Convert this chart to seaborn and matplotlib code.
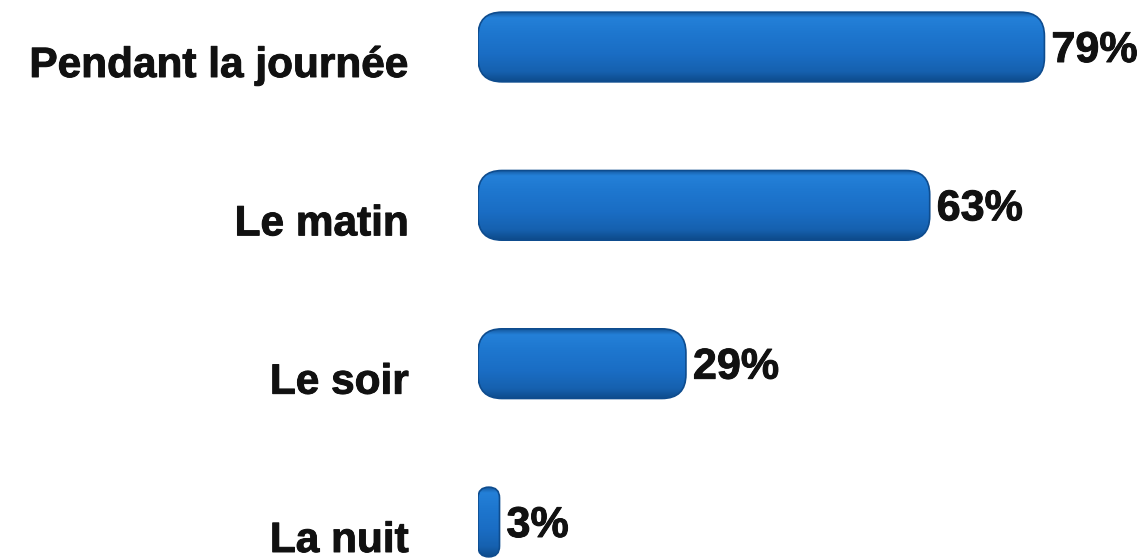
import numpy as np
import pandas as pd
import matplotlib
matplotlib.use("Agg")
import matplotlib.pyplot as plt
from matplotlib.patches import FancyBboxPatch
from matplotlib.colors import LinearSegmentedColormap
import matplotlib.patheffects as pe
import seaborn as sns

categories = ["Pendant la journée", "Le matin", "Le soir", "La nuit"]
values = [79, 63, 29, 3]
value_labels = ["79%", "63%", "29%", "3%"]

sns.set_theme(style="white")
plt.rcParams['font.family'] = ['Liberation Sans', 'DejaVu Sans']

W, H = 1148, 559
fig = plt.figure(figsize=(W / 100, H / 100), dpi=100)
fig.patch.set_facecolor("white")
x0_px = 478
ax = fig.add_axes([x0_px / W, 0, 1 - x0_px / W, 1])

df = pd.DataFrame({"cat": categories, "val": values})
sns.barplot(data=df, y="cat", x="val", orient="h", color="#1b6fc6",
            width=0.44, ax=ax)

px_per_x = 7.17
xmax = (W - x0_px) / px_per_x
centers_px = (47, 522)
px_per_y = (centers_px[1] - centers_px[0]) / 3
ylim = (3 + (H - centers_px[1]) / px_per_y, -centers_px[0] / px_per_y)

cmap = LinearSegmentedColormap.from_list("bar", [
    (0.0, "#15599f"), (0.08, "#2480d8"), (0.3, "#1e77cf"),
    (0.6, "#1a6dc4"), (0.85, "#1661af"), (1.0, "#0d4a8a")])
grad = np.linspace(0, 1, 256).reshape(-1, 1)

aspect = px_per_x / px_per_y
r_px = 24
patches = list(ax.patches)
for p in patches:
    x, y, w, h = p.get_x(), p.get_y(), p.get_width(), p.get_height()
    p.remove()
    r = min(r_px / px_per_x, w / 2)
    style = f"round,pad=0,rounding_size={r}"
    fb = FancyBboxPatch((x, y), w, h, boxstyle=style,
                        mutation_aspect=aspect, facecolor="#1b6fc6",
                        edgecolor="none", zorder=2)
    ax.add_patch(fb)
    im = ax.imshow(grad, extent=(x, x + w, y + h, y), aspect="auto",
                   cmap=cmap, zorder=2.5, interpolation="bicubic")
    im.set_clip_path(fb)
    edge = FancyBboxPatch((x, y), w, h, boxstyle=style,
                          mutation_aspect=aspect, facecolor="none",
                          edgecolor="#0e4c8e", linewidth=1.2, zorder=3)
    ax.add_patch(edge)

ax.set_xlim(0, xmax)
ax.set_ylim(*ylim)

thick = [pe.withStroke(linewidth=0.7, foreground="#111111")]
for i, (cat, val, lab) in enumerate(zip(categories, values, value_labels)):
    ax.annotate(cat, xy=(0, i), xytext=(-69, -19), textcoords="offset pixels",
                ha="right", va="center", fontsize=30.5, fontweight="bold",
                color="#111111", annotation_clip=False, path_effects=thick)
    ax.annotate(lab, xy=(val, i), xytext=(7, -4), textcoords="offset pixels",
                ha="left", va="center", fontsize=31, fontweight="bold",
                color="#111111", annotation_clip=False, path_effects=thick)

ax.axis("off")
fig.savefig("out.png", dpi=100, facecolor="white")
